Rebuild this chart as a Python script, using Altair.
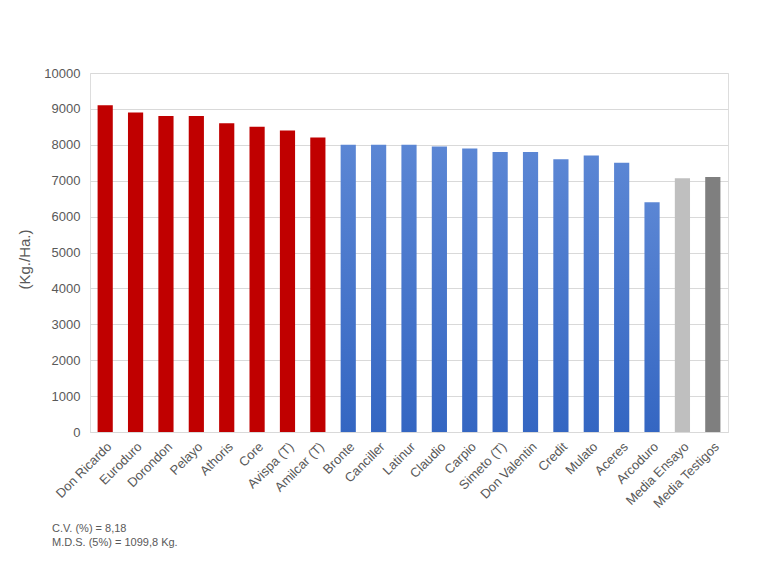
# Rendimiento por variedad (Kg./Ha.) - gráfico de columnas con Altair

import altair as alt
import pandas as pd

# Datos
variedades = ['Don Ricardo', 'Euroduro', 'Dorondon', 'Pelayo', 'Athoris', 'Core',
              'Avispa (T)', 'Amilcar (T)', 'Bronte', 'Canciller', 'Latinur', 'Claudio',
              'Carpio', 'Simeto (T)', 'Don Valentin', 'Credit', 'Mulato', 'Aceres',
              'Arcoduro', 'Media Ensayo', 'Media Testigos']
rendimiento = [9100, 8900, 8800, 8800, 8600, 8500, 8400, 8200, 8000, 8000, 8000, 7950,
               7900, 7800, 7800, 7600, 7700, 7500, 6400, 7070, 7100]
grupo = ['rojo'] * 8 + ['azul'] * 11 + ['media', 'testigos']

notas = ['C.V. (%) = 8,18', 'M.D.S. (5%) = 1099,8 Kg.']

df = pd.DataFrame({'variedad': variedades, 'kg': rendimiento, 'grupo': grupo})

gris = '#595959'
fuente = 'Liberation Sans'

# Base: ejes compartidos
base = alt.Chart(df).encode(
    x=alt.X('variedad:N', sort=variedades, title=None,
            scale=alt.Scale(paddingInner=0.5, paddingOuter=0.25),
            axis=alt.Axis(labelAngle=-45, labelFontSize=13, labelColor=gris,
                          labelPadding=8, ticks=False, domainColor='#D9D9D9')),
    y=alt.Y('kg:Q', title='(Kg./Ha.)',
            scale=alt.Scale(domain=[0, 10000]),
            axis=alt.Axis(values=list(range(0, 10001, 1000)), format='d',
                          labelFontSize=13, labelColor=gris, labelPadding=10,
                          ticks=False, domain=False, gridColor='#D9D9D9',
                          titleFontSize=15, titleColor=gris, titleFontWeight='normal',
                          titleX=-66, titleY=186, titleBaseline='middle',
                          titleAlign='center')),
)

# Barras de color sólido (rojas y medias)
solidas = base.mark_bar().encode(
    color=alt.Color('grupo:N', legend=None,
                    scale=alt.Scale(domain=['rojo', 'media', 'testigos'],
                                    range=['#C00000', '#BFBFBF', '#7F7F7F']))
).transform_filter(alt.datum.grupo != 'azul')

# Barras azules con degradado
azules = base.mark_bar(color=alt.Gradient(
    gradient='linear',
    stops=[alt.GradientStop(color='#5B86D4', offset=0),
           alt.GradientStop(color='#3466C2', offset=1)],
    x1=1, x2=1, y1=0, y2=1)
).transform_filter(alt.datum.grupo == 'azul')

chart = alt.layer(solidas, azules).properties(
    width=638, height=359,
    autosize=alt.AutoSizeParams(type='none'),
    padding={'left': 82, 'top': 65, 'right': 30, 'bottom': 130},
    title=alt.TitleParams(text=notas, orient='bottom', anchor='start', frame='group',
                          dx=-38, offset=12, fontSize=11, fontWeight='normal',
                          color=gris, font=fuente, lineHeight=14),
).configure_view(stroke=None).configure(font=fuente)

chart.save('out.html', embed_options={'renderer': 'svg', 'actions': False})
